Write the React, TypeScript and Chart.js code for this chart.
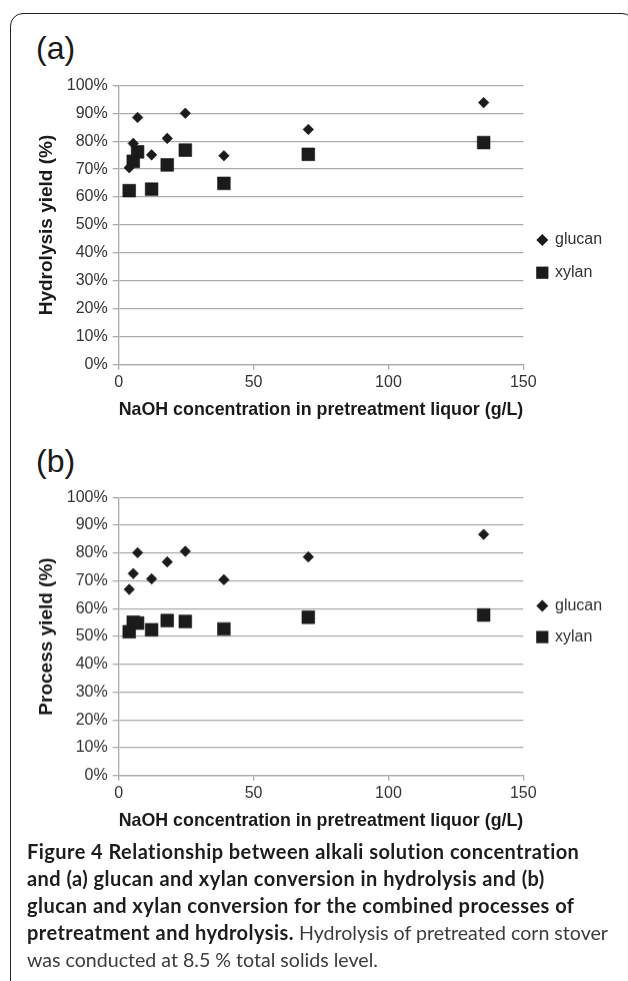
import React, { useEffect, useRef } from 'react';
import { Chart, registerables } from 'chart.js';

Chart.register(...registerables);

// ---- data ----
const naohConcentration = [3.9, 5.4, 7.0, 12.2, 18.0, 24.7, 39.0, 70.3, 135.3];
const hydrolysisGlucan = [70.5, 79.2, 88.5, 75.1, 81.0, 90.0, 74.8, 84.2, 93.8];
const hydrolysisXylan = [62.3, 72.8, 76.2, 62.8, 71.5, 76.8, 64.9, 75.3, 79.5];
const processGlucan = [66.9, 72.6, 80.1, 70.7, 76.8, 80.6, 70.4, 78.6, 86.7];
const processXylan = [51.7, 55.1, 54.8, 52.4, 55.7, 55.4, 52.7, 56.9, 57.7];
const seriesNames = ['glucan', 'xylan'];
const xAxisTitle = 'NaOH concentration in pretreatment liquor (g/L)';
const yTitleA = 'Hydrolysis yield (%)';
const yTitleB = 'Process yield (%)';
const xMin = 0;
const xMax = 150;
const xStep = 50;
const yMin = 0;
const yMax = 100;
const yStep = 10;

const FONT = '"Liberation Sans", Arial, Helvetica, sans-serif';
const MARK = '#1b1b1b';
const GRID = '#ababab';
const TICK_COLOR = '#333333';

type PanelProps = {
  areaTop: number;
  areaBottom: number;
  glucan: number[];
  xylan: number[];
  yTitle: string;
  legendY: number[];
};

const PAD_TOP = 15.3;
const X_AXIS_H = 65.3;
const AREA_LEFT = 118.7;
const AREA_RIGHT = 523.3;
const CANVAS_W = 628;

function Panel({ areaTop, areaBottom, glucan, xylan, yTitle, legendY }: PanelProps) {
  const ref = useRef<HTMLCanvasElement | null>(null);
  const canvasTop = areaTop - PAD_TOP;
  const canvasH = areaBottom + X_AXIS_H - canvasTop;

  useEffect(() => {
    if (!ref.current) return;
    const legendPlugin = {
      id: 'sideLegend',
      afterDraw(chart: any) {
        const ctx = chart.ctx as CanvasRenderingContext2D;
        ctx.save();
        chart.data.datasets.forEach((ds: any, i: number) => {
          const cx = 542.3;
          const cy = legendY[i] - canvasTop;
          ctx.fillStyle = ds.backgroundColor;
          ctx.beginPath();
          if (ds.pointStyle === 'rectRot') {
            const r = 6;
            ctx.moveTo(cx - r, cy);
            ctx.lineTo(cx, cy - r);
            ctx.lineTo(cx + r, cy);
            ctx.lineTo(cx, cy + r);
            ctx.closePath();
          } else {
            const h = 6.1;
            ctx.rect(cx - h, cy - h, 2 * h, 2 * h);
          }
          ctx.fill();
          ctx.fillStyle = TICK_COLOR;
          ctx.font = `16px ${FONT}`;
          ctx.textAlign = 'left';
          ctx.textBaseline = 'middle';
          ctx.fillText(ds.label, 555, cy);
        });
        ctx.restore();
      },
    };

    const chart = new Chart(ref.current, {
      type: 'scatter',
      data: {
        datasets: [
          {
            label: seriesNames[0],
            data: naohConcentration.map((x, i) => ({ x, y: glucan[i] })),
            pointStyle: 'rectRot',
            pointRadius: 5.3,
            pointHoverRadius: 5.3,
            backgroundColor: MARK,
            borderColor: MARK,
            borderWidth: 0.6,
          },
          {
            label: seriesNames[1],
            data: naohConcentration.map((x, i) => ({ x, y: xylan[i] })),
            pointStyle: 'rect',
            pointRadius: 9,
            pointHoverRadius: 9,
            backgroundColor: MARK,
            borderColor: MARK,
            borderWidth: 0.6,
          },
        ],
      },
      options: {
        animation: false,
        responsive: false,
        maintainAspectRatio: false,
        events: [],
        layout: { padding: { top: PAD_TOP, right: CANVAS_W - AREA_RIGHT, bottom: 0, left: 0 } },
        plugins: {
          legend: { display: false },
          tooltip: { enabled: false },
          title: { display: false },
        },
        scales: {
          x: {
            type: 'linear',
            min: xMin,
            max: xMax,
            afterFit: (s: any) => {
              s.height = X_AXIS_H;
            },
            ticks: {
              stepSize: xStep,
              color: TICK_COLOR,
              font: { family: FONT, size: 16 },
              padding: 3,
              maxRotation: 0,
            },
            grid: {
              drawOnChartArea: false,
              drawTicks: true,
              tickLength: 5,
              color: GRID,
              lineWidth: 1.3,
            },
            border: { display: true, color: GRID, width: 1.3 },
            title: {
              display: true,
              text: xAxisTitle,
              color: '#1a1a1a',
              font: { family: FONT, size: 19, weight: 'bold' },
              padding: { top: 0, bottom: 8.5 },
            },
          },
          y: {
            type: 'linear',
            min: yMin,
            max: yMax,
            afterFit: (s: any) => {
              s.width = AREA_LEFT;
            },
            ticks: {
              stepSize: yStep,
              color: TICK_COLOR,
              font: { family: FONT, size: 16 },
              padding: 5,
              callback: (v: any) => `${v}%`,
            },
            grid: {
              drawOnChartArea: true,
              drawTicks: true,
              tickLength: 6,
              color: GRID,
              lineWidth: 1.3,
            },
            border: { display: true, color: GRID, width: 1.3 },
            title: {
              display: true,
              text: yTitle,
              color: '#1a1a1a',
              font: { family: FONT, size: 19, weight: 'bold' },
              padding: { top: 35.3, bottom: 0 },
            },
          },
        },
      },
      plugins: [legendPlugin],
    } as any);
    return () => chart.destroy();
  }, [areaTop, areaBottom, glucan, xylan, yTitle, legendY, canvasTop]);

  return (
    <canvas
      ref={ref}
      width={CANVAS_W}
      height={canvasH}
      style={{ position: 'absolute', left: 0, top: canvasTop, width: CANVAS_W, height: canvasH }}
    />
  );
}

const CAPTION_FONT = 'Lato, "Noto Sans", sans-serif';

export default function App() {
  const boldStyle: React.CSSProperties = { fontWeight: 700, color: '#1f1c1d', letterSpacing: '0.45px', fontSize: 20 };
  const regStyle: React.CSSProperties = { fontWeight: 400, color: '#3c3c3c', letterSpacing: 0, fontSize: 19.6 };
  return (
    <div
      style={{
        position: 'fixed',
        left: 0,
        top: 0,
        width: 628,
        height: 981,
        overflow: 'hidden',
        background: '#ffffff',
      }}
    >
      <div
        style={{
          position: 'absolute',
          left: 10,
          top: 13.3,
          width: 625,
          height: 1100,
          border: '1.6px solid #231f20',
          borderRadius: 13,
          boxSizing: 'border-box',
        }}
      />
      <div style={{ position: 'absolute', left: 36, top: 32, font: `32px/32px ${FONT}`, color: '#1a1a1a' }}>(a)</div>
      <div style={{ position: 'absolute', left: 36, top: 445, font: `32px/32px ${FONT}`, color: '#1a1a1a' }}>(b)</div>
      <Panel
        areaTop={85.3}
        areaBottom={364.7}
        glucan={hydrolysisGlucan}
        xylan={hydrolysisXylan}
        yTitle={yTitleA}
        legendY={[240, 272.7]}
      />
      <Panel
        areaTop={497.7}
        areaBottom={776}
        glucan={processGlucan}
        xylan={processXylan}
        yTitle={yTitleB}
        legendY={[606, 637]}
      />
      <div
        style={{
          position: 'absolute',
          left: 27,
          top: 838,
          fontFamily: CAPTION_FONT,
          fontSize: 20,
          lineHeight: '26.9px',
          whiteSpace: 'nowrap',
        }}
      >
        <div style={boldStyle}>Figure 4 Relationship between alkali solution concentration</div>
        <div style={boldStyle}>and (a) glucan and xylan conversion in hydrolysis and (b)</div>
        <div style={boldStyle}>glucan and xylan conversion for the combined processes of</div>
        <div>
          <span style={boldStyle}>pretreatment and hydrolysis.</span>
          <span style={regStyle}> Hydrolysis of pretreated corn stover</span>
        </div>
        <div style={regStyle}>was conducted at 8.5 % total solids level.</div>
      </div>
    </div>
  );
}
